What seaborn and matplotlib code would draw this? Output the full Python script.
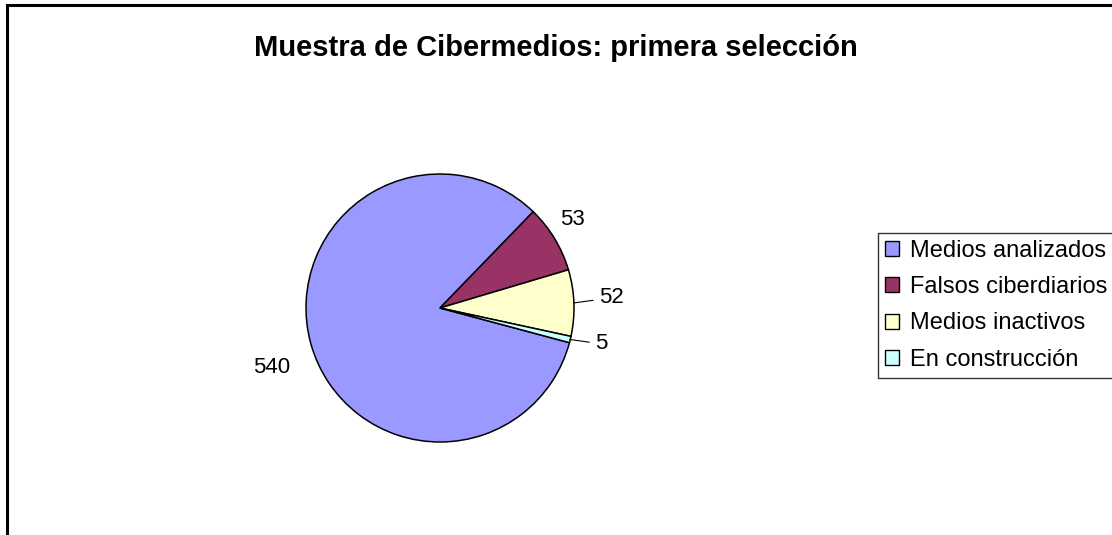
import numpy as np
import matplotlib
matplotlib.use("Agg")
import matplotlib.pyplot as plt
from matplotlib.patches import Rectangle
import seaborn as sns

# Data
categories = ["Medios analizados", "Falsos ciberdiarios", "Medios inactivos", "En construcción"]
values = [540, 53, 52, 5]
colors = ["#9999FF", "#993366", "#FFFFCC", "#CCFFFF"]
title = "Muestra de Cibermedios: primera selección"

sns.set_theme(style="white")
plt.rcParams["font.family"] = ["Liberation Sans", "DejaVu Sans"]
plt.rcParams["text.color"] = "black"

W, H = 1112, 535
fig = plt.figure(figsize=(W / 100, H / 100), dpi=100)

# outer chart frame (runs off the right and bottom edges)
fig.add_artist(Rectangle((7 / W, -0.1), 1.2, 1.1 - 5 / H, transform=fig.transFigure,
                         fill=False, edgecolor="black", lw=2.2, clip_on=False))

fig.text(556 / W, 1 - 48 / H, title, ha="center", va="center",
         fontsize=21, fontweight="bold")

# pie axes: centre (440, 308) px, radius 134 px
lim = 1.6
R = 134
cx, cy = 440, 308
ax = fig.add_axes([(cx - lim * R) / W, (H - cy - lim * R) / H, 2 * lim * R / W, 2 * lim * R / H])
wedges, _ = ax.pie(values, colors=colors, startangle=-15, counterclock=False,
                   wedgeprops=dict(edgecolor="black", linewidth=1.1))
ax.set_xlim(-lim, lim)
ax.set_ylim(-lim, lim)
ax.set_aspect("equal")
ax.axis("off")

# label placement: (radius, angle shift in degrees, leader line?)
label_pos = [(1.33, 3.9, False), (1.19, 2.4, False), (1.19, 1.5, True), (1.19, 0.6, True)]
for w, v, (r, dth, leader) in zip(wedges, values, label_pos):
    mid = np.deg2rad((w.theta1 + w.theta2) / 2)
    ang = np.deg2rad((w.theta1 + w.theta2) / 2 + dth)
    tx, ty = r * np.cos(ang), r * np.sin(ang)
    if not leader:
        ax.text(tx, ty, str(v), ha="center", va="center", fontsize=16)
    else:
        ax.annotate(str(v), xy=(np.cos(mid), np.sin(mid)), xytext=(tx, ty),
                    ha="left", va="center", fontsize=16,
                    arrowprops=dict(arrowstyle="-", color="black", lw=0.8,
                                    shrinkA=2, shrinkB=0))

handles = [Rectangle((0, 0), 1, 1, facecolor=col, edgecolor="black", lw=1) for col in colors]
leg = fig.legend(handles, categories, loc="upper left", bbox_to_anchor=(878 / W, 1 - 233 / H),
                 fontsize=17, frameon=True, fancybox=False, edgecolor="black",
                 handlelength=0.6, handleheight=0.6, handletextpad=0.45,
                 labelspacing=0.6, borderpad=0.3, borderaxespad=0)
leg.get_frame().set_linewidth(1.0)

fig.savefig("out.png", dpi=100, facecolor="white")
